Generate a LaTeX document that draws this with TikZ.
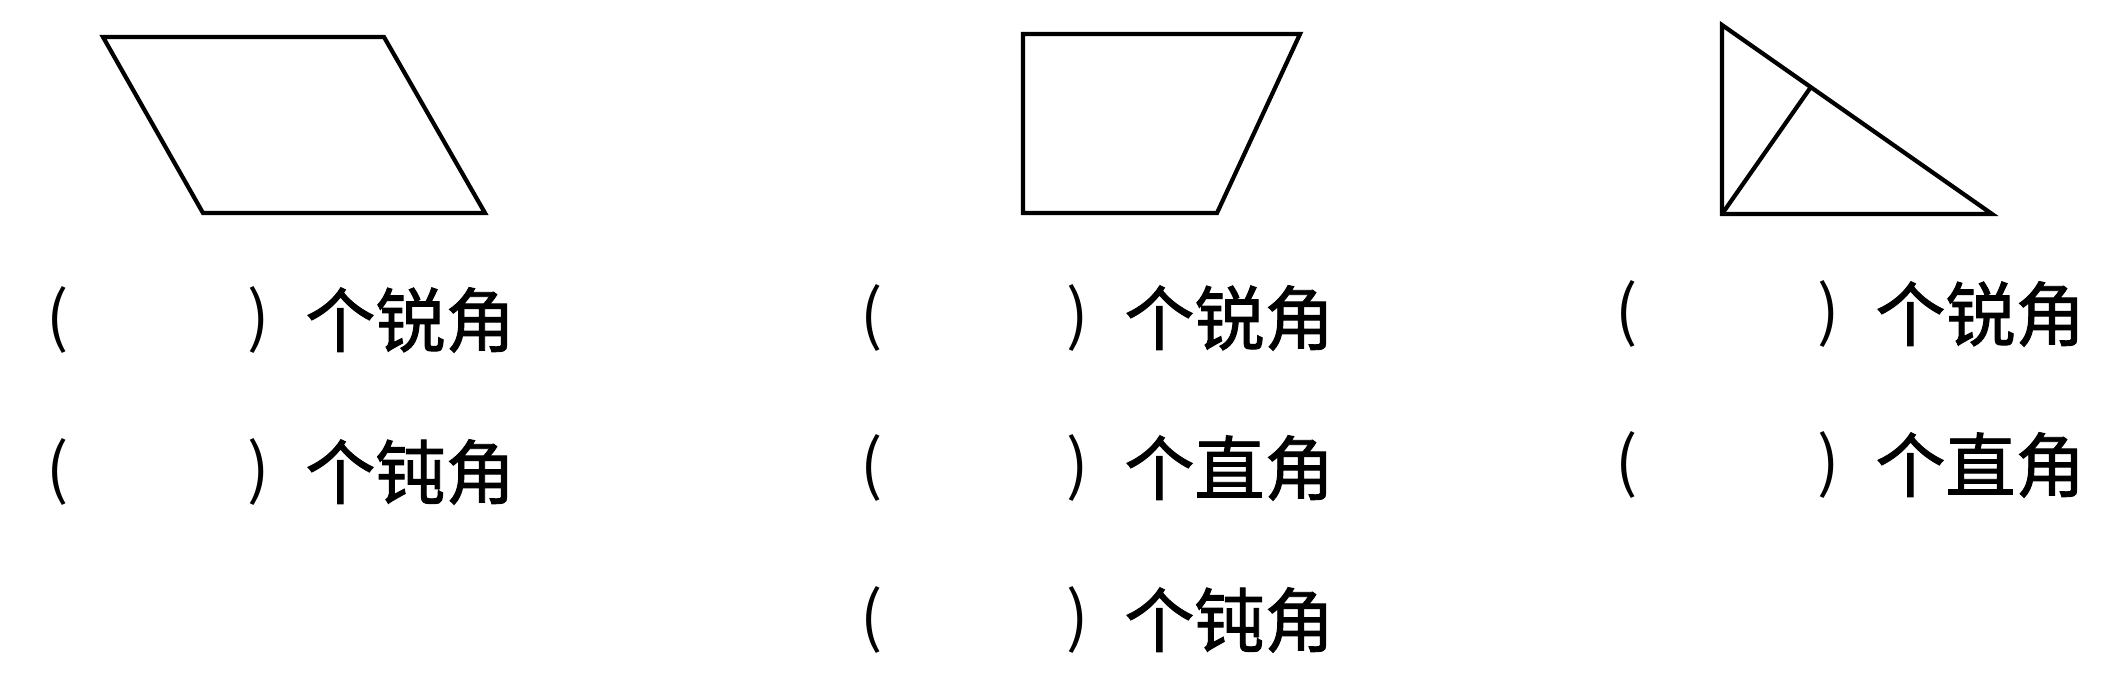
\documentclass[tikz,border=0pt]{standalone}
\usepackage{fontspec}
\newfontfamily\cjk{Noto Sans CJK SC}
\newfontfamily\cjkm{Noto Sans CJK SC}[FakeBold=1.3]
\usetikzlibrary{calc}
\tikzset{
  shape line/.style={line width=2.1pt, line join=miter},
  lbl/.style={anchor=west, inner sep=0pt, font=\cjkm\fontsize{35pt}{40pt}\selectfont},
  par/.style={anchor=center, inner sep=0pt, font=\cjk\fontsize{33pt}{38pt}\selectfont},
}
\begin{document}
\begin{tikzpicture}[x=0.5pt, y=-0.5pt]
\useasboundingbox[fill=white] (0,0) rectangle (2128,682);
% parallelogram
\draw[shape line] (103,37) -- (384,37) -- (485,213) -- (203,213) -- cycle;
% trapezoid
\draw[shape line] (1023,34) -- (1300,34) -- (1217,213) -- (1023,213) -- cycle;
% right triangle with altitude
\coordinate (A) at (1722,25);
\coordinate (B) at (1722,214);
\coordinate (C) at (1992,214);
\coordinate (D) at ($(A)!(B)!(C)$);
\draw[shape line] (A) -- (B) -- (C) -- cycle;
\draw[shape line] (B) -- (D);
% left column
\node[par] (l1o) at (58,320) {(};
\node[par] (l1c) at (259,320) {)};
\node[lbl] (l1t) at (305,320) {个锐角};
\node[par] (l2o) at (58,472) {(};
\node[par] (l2c) at (259,472) {)};
\node[lbl] (l2t) at (305,472) {个钝角};
% middle column
\node[par] (m1o) at (872,318) {(};
\node[par] (m1c) at (1078,318) {)};
\node[lbl] (m1t) at (1124,318) {个锐角};
\node[par] (m2o) at (872,468) {(};
\node[par] (m2c) at (1078,468) {)};
\node[lbl] (m2t) at (1124,468) {个直角};
\node[par] (m3o) at (872,620) {(};
\node[par] (m3c) at (1078,620) {)};
\node[lbl] (m3t) at (1124,620) {个钝角};
% right column
\node[par] (r1o) at (1627,314) {(};
\node[par] (r1c) at (1829,314) {)};
\node[lbl] (r1t) at (1875,314) {个锐角};
\node[par] (r2o) at (1627,465) {(};
\node[par] (r2c) at (1829,465) {)};
\node[lbl] (r2t) at (1875,465) {个直角};
\end{tikzpicture}
\end{document}
